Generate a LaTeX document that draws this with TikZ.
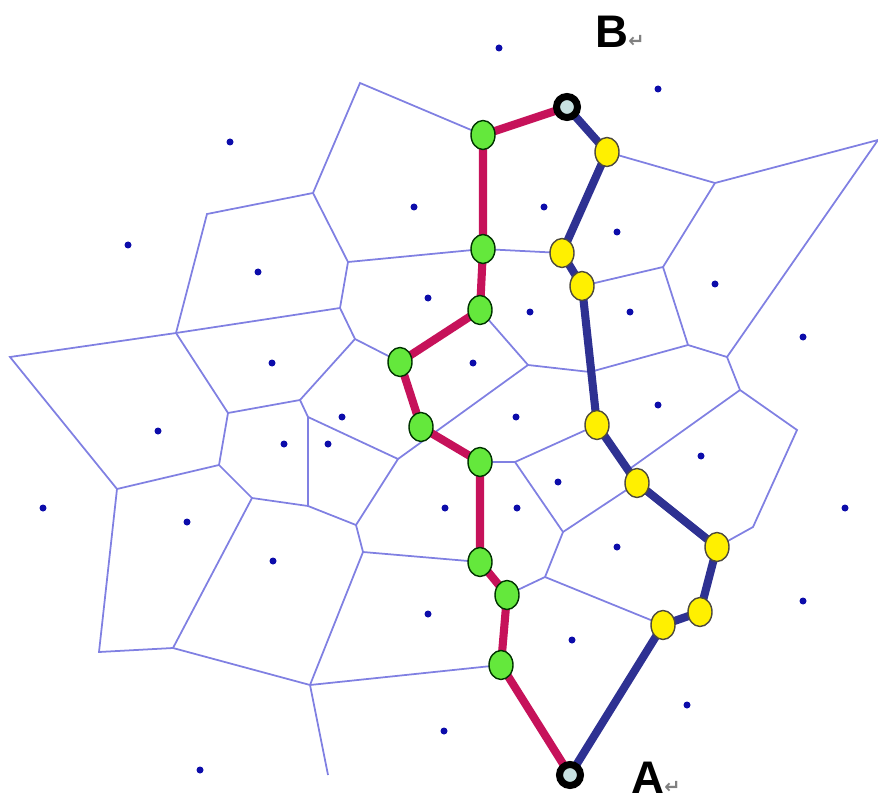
\documentclass[tikz,border=0pt]{standalone}
\usepackage{fontspec}
\usetikzlibrary{shapes.geometric,backgrounds}
\newfontfamily\labelfont{Liberation Sans}
\newfontfamily\symfont{DejaVu Sans}

\definecolor{edgeblue}{RGB}{128,128,226}
\definecolor{siteblue}{RGB}{12,12,170}
\definecolor{pathred}{RGB}{198,18,90}
\definecolor{pathblue}{RGB}{46,49,146}
\definecolor{nodegreen}{RGB}{100,232,60}
\definecolor{nodeyellow}{RGB}{255,240,0}
\definecolor{endfill}{RGB}{200,226,226}

\begin{document}
\begin{tikzpicture}[x=0.02cm,y=-0.02cm,
  vedge/.style={draw=edgeblue,line width=1pt},
  redpath/.style={draw=pathred,line width=4.6pt,line join=round},
  bluepath/.style={draw=pathblue,line width=4.6pt,line join=round},
  gnode/.style={ellipse,draw=black!80!green,line width=0.8pt,fill=nodegreen,
    minimum width=0.48cm,minimum height=0.58cm,inner sep=0pt},
  ynode/.style={ellipse,draw=black!80!yellow,line width=0.8pt,fill=nodeyellow,
    minimum width=0.48cm,minimum height=0.58cm,inner sep=0pt},
  endnode/.style={circle,draw=black,line width=4pt,fill=endfill,
    minimum size=0.42cm,inner sep=0pt},
  letter/.style={inner sep=0pt,anchor=base west,
    font=\labelfont\bfseries\fontsize{26}{28}\selectfont}]

  \useasboundingbox (0,0) rectangle (878,800);

  % Voronoi vertices
  \coordinate (v1) at (360,83);
  \coordinate (v2) at (313,193);
  \coordinate (v3) at (207,214);
  \coordinate (v4) at (348,262);
  \coordinate (v5) at (176,333);
  \coordinate (v6) at (10,357);
  \coordinate (v7) at (340,308);
  \coordinate (v8) at (355,339);
  \coordinate (v9) at (300,400);
  \coordinate (v10) at (228,413);
  \coordinate (v11) at (308,417);
  \coordinate (v12) at (219,465);
  \coordinate (v13) at (117,489);
  \coordinate (v14) at (252,498);
  \coordinate (v15) at (308,506);
  \coordinate (v16) at (398,459);
  \coordinate (v17) at (356,525);
  \coordinate (v18) at (363,552);
  \coordinate (v19) at (173,648);
  \coordinate (v20) at (99,652);
  \coordinate (v21) at (310,685);
  \coordinate (v22) at (328,775);
  \coordinate (v23) at (528,365);
  \coordinate (v24) at (590,372);
  \coordinate (v25) at (572,270);
  \coordinate (v26) at (663,267);
  \coordinate (v27) at (715,183);
  \coordinate (v28) at (878,140);
  \coordinate (v29) at (688,345);
  \coordinate (v30) at (727,357);
  \coordinate (v31) at (740,390);
  \coordinate (v32) at (797,430);
  \coordinate (v33) at (753,527);
  \coordinate (v34) at (515,462);
  \coordinate (v35) at (563,532);
  \coordinate (v36) at (545,577);
  \coordinate (v37) at (628,470);

  % Path nodes
  \node[endnode] (B) at (567,107) {};
  \node[endnode] (A) at (570,775) {};

  \node[gnode] (g1) at (483,135) {};
  \node[gnode] (g2) at (483,249) {};
  \node[gnode] (g3) at (480,310) {};
  \node[gnode] (g4) at (400,362) {};
  \node[gnode] (g5) at (421,427) {};
  \node[gnode] (g6) at (480,462) {};
  \node[gnode] (g7) at (480,562) {};
  \node[gnode] (g8) at (507,595) {};
  \node[gnode] (g9) at (501,665) {};

  \node[ynode] (y1) at (607,152) {};
  \node[ynode] (y2) at (562,253) {};
  \node[ynode] (y3) at (582,286) {};
  \node[ynode] (y4) at (597,425) {};
  \node[ynode] (y5) at (637,483) {};
  \node[ynode] (y6) at (717,547) {};
  \node[ynode] (y7) at (700,612) {};
  \node[ynode] (y8) at (663,625) {};

  \begin{pgfonlayer}{background}
  % Voronoi edges
  \draw[vedge] (g1.center) -- (v1) -- (v2) -- (v3) -- (v5) -- (v6) -- (v13) -- (v20) -- (v19) -- (v21) -- (v22);
  \draw[vedge] (v2) -- (v4) -- (g2.center) -- (y2.center) -- (v25);
  \draw[vedge] (v5) -- (v7) -- (v4);
  \draw[vedge] (v5) -- (v10) -- (v9) -- (v8) -- (v7);
  \draw[vedge] (v8) -- (g4.center);
  \draw[vedge] (v10) -- (v12) -- (v13);
  \draw[vedge] (v12) -- (v14) -- (v15) -- (v11) -- (v9);
  \draw[vedge] (v14) -- (v19);
  \draw[vedge] (v11) -- (v16) -- (v17) -- (v15);
  \draw[vedge] (v17) -- (v18) -- (v21);
  \draw[vedge] (v18) -- (g7.center);
  \draw[vedge] (v21) -- (g9.center);
  \draw[vedge] (v16) -- (v23) -- (g3.center);
  \draw[vedge] (v23) -- (v24) -- (v29) -- (v30) -- (v28) -- (v27) -- (v26) -- (v29);
  \draw[vedge] (v24) -- (y3.center) -- (v25);
  \draw[vedge] (v26) -- (y3.center);
  \draw[vedge] (v27) -- (y1.center);
  \draw[vedge] (v30) -- (v31) -- (v32) -- (v33) -- (y6.center);
  \draw[vedge] (v31) -- (v37) -- (y5.center) -- (v35);
  \draw[vedge] (g6.center) -- (v34) -- (y4.center);
  \draw[vedge] (v34) -- (v35) -- (v36) -- (g8.center);
  \draw[vedge] (v36) -- (y8.center);

  % Sites
  \foreach \p in {(499,48),(658,89),(230,142),(128,245),(258,272),(414,207),
      (544,207),(617,232),(715,284),(428,298),(530,312),(630,312),(803,337),
      (272,363),(473,363),(158,431),(342,417),(516,417),(658,405),(284,444),
      (328,444),(701,456),(558,482),(43,508),(187,522),(445,508),(517,508),
      (617,547),(845,508),(273,561),(428,614),(572,640),(803,601),(444,731),
      (687,705),(200,770)}
    \fill[siteblue] \p circle (3.5);

  % Paths
  \draw[redpath] (B.center) -- (g1.center) -- (g2.center) -- (g3.center) -- (g4.center)
    -- (g5.center) -- (g6.center) -- (g7.center) -- (g8.center) -- (g9.center) -- (A.center);
  \draw[bluepath] (B.center) -- (y1.center) -- (y2.center) -- (y3.center) -- (y4.center)
    -- (y5.center) -- (y6.center) -- (y7.center) -- (y8.center) -- (A.center);
  \end{pgfonlayer}

  % Labels
  \node[letter] (labB) at (595,48) {B{\symfont\fontsize{11}{12}\selectfont\color{gray}↵}};
  \node[letter] (labA) at (631,793) {A{\symfont\fontsize{11}{12}\selectfont\color{gray}↵}};

\end{tikzpicture}
\end{document}
